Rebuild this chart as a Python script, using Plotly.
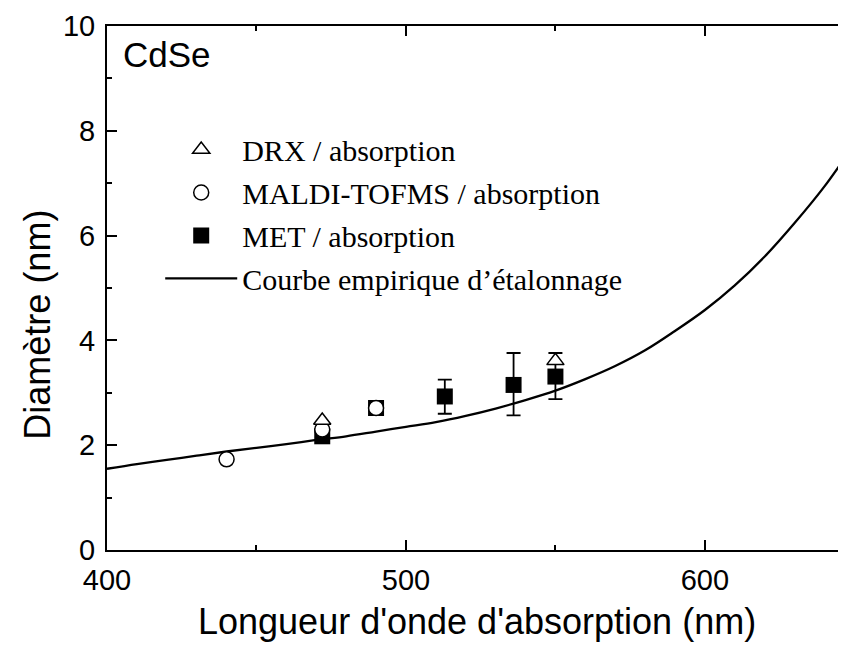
import plotly.graph_objects as go

# ---- data ----
curve_x = [400, 410, 420, 430, 440, 450, 460, 470, 480, 490, 500, 510, 520,
           530, 540, 550, 560, 570, 580, 590, 600, 610, 620, 630, 640, 650]
curve_y = [1.55, 1.64, 1.72, 1.80, 1.88, 1.95, 2.02, 2.10, 2.17, 2.26, 2.35,
           2.44, 2.56, 2.70, 2.86, 3.04, 3.26, 3.51, 3.81, 4.18, 4.58, 5.05,
           5.60, 6.24, 6.94, 7.75]

drx_x = [472, 550]
drx_y = [2.47, 3.61]

maldi_x = [440, 472, 490]
maldi_y = [1.73, 2.30, 2.71]

met_x = [472, 490, 513, 536, 550]
met_y = [2.17, 2.71, 2.93, 3.15, 3.31]
met_err_plus = [0, 0, 0.32, 0.61, 0.45]
met_err_minus = [0, 0, 0.33, 0.58, 0.43]

x_ticks = [400, 500, 600]
y_ticks = [0, 2, 4, 6, 8, 10]

fig = go.Figure()

fig.add_trace(go.Scatter(
    x=curve_x, y=curve_y, mode="lines", name="Courbe empirique d’étalonnage",
    line=dict(color="black", width=2.3, shape="spline"),
    legendrank=4, legendgroup="d"))

fig.add_trace(go.Scatter(
    x=met_x, y=met_y, mode="markers", name="MET / absorption",
    marker=dict(symbol="square", size=16, color="black"),
    error_y=dict(type="data", symmetric=False, array=met_err_plus,
                 arrayminus=met_err_minus, color="black", thickness=1.8, width=7),
    legendrank=3, legendgroup="c"))

fig.add_trace(go.Scatter(
    x=maldi_x, y=maldi_y, mode="markers", name="MALDI-TOFMS / absorption",
    marker=dict(symbol="circle", size=15, color="white",
                line=dict(color="black", width=1.5)),
    legendrank=2, legendgroup="b"))

fig.add_trace(go.Scatter(
    x=drx_x, y=drx_y, mode="markers", name="DRX / absorption",
    marker=dict(symbol="triangle-up", size=15, color="white",
                line=dict(color="black", width=1.5)),
    legendrank=1, legendgroup="a"))

sans = "Liberation Sans, Arial, sans-serif"
axis_font = dict(family=sans, size=29, color="black")

fig.update_layout(
    width=838, height=638,
    margin=dict(l=99, r=0, t=18, b=96),
    paper_bgcolor="white", plot_bgcolor="white",
    showlegend=True,
    legend=dict(
        x=0.072, y=0.814, xanchor="left", yanchor="top",
        bgcolor="rgba(0,0,0,0)", borderwidth=0,
        font=dict(family="Liberation Serif, Times New Roman, serif", size=30, color="black"),
        itemwidth=72, traceorder="grouped", tracegroupgap=1,
    ),
    xaxis=dict(
        range=[400, 647.2], tickvals=x_ticks, ticks="inside", ticklen=10, tickwidth=2,
        tickcolor="black", showline=True, linecolor="black", linewidth=2,
        mirror="allticks", showgrid=False, zeroline=False, tickfont=axis_font,
        ticklabelstandoff=3,
        minor=dict(dtick=50, tick0=400, ticks="inside", ticklen=5, tickwidth=2,
                   tickcolor="black", showgrid=False),
    ),
    yaxis=dict(
        range=[0, 10], tickvals=y_ticks, ticks="inside", ticklen=10, tickwidth=2,
        tickcolor="black", showline=True, linecolor="black", linewidth=2,
        mirror=False, showgrid=False, zeroline=False, tickfont=axis_font,
        ticklabelstandoff=4,
        minor=dict(dtick=1, tick0=0, ticks="inside", ticklen=5, tickwidth=2,
                   tickcolor="black", showgrid=False),
    ),
    annotations=[
        dict(text="CdSe", xref="paper", yref="paper", x=0.0186, y=0.946,
             xanchor="left", yanchor="middle", showarrow=False,
             font=dict(family=sans, size=35, color="black")),
        dict(text="Longueur d'onde d'absorption (nm)", xref="paper", yref="paper",
             x=0.5, y=-0.1355, xanchor="center", yanchor="middle", showarrow=False,
             font=dict(family=sans, size=36, color="black")),
        dict(text="Diamètre (nm)", xref="paper", yref="paper", textangle=-90,
             x=-0.0934, y=0.43, xanchor="center", yanchor="middle", showarrow=False,
             font=dict(family=sans, size=36, color="black")),
    ],
)

fig.write_html("out.html")
